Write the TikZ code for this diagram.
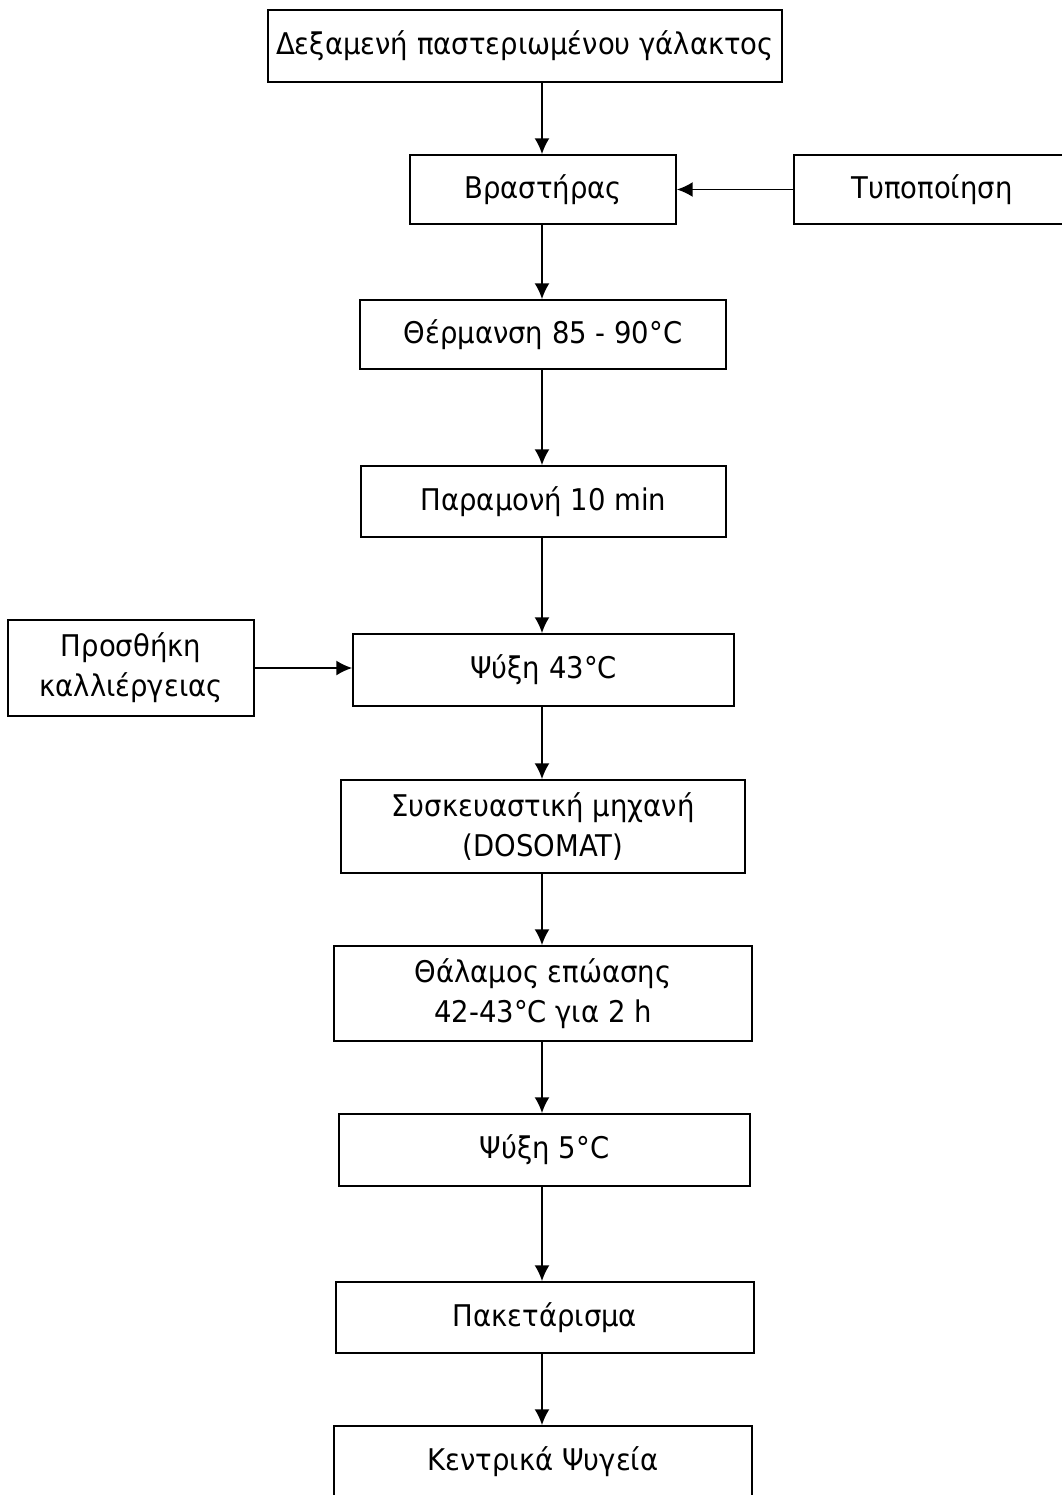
\documentclass[tikz,border=0pt]{standalone}
\usepackage{fontspec}
\setmainfont[FakeStretch=0.92]{DejaVu Sans}
\usetikzlibrary{arrows.meta}

\begin{document}
\begin{tikzpicture}[x=0.02cm, y=-0.02cm, >={Latex[length=9pt,width=8.5pt]},
  stage/.style={draw, line width=1pt, align=center, inner sep=0pt,
    font=\fontsize{17}{22.7}\selectfont}]

\useasboundingbox (0,0) rectangle (1062,1495);
\coordinate (spine) at (542,0);

\node[stage, minimum width=10.28cm, minimum height=1.44cm] (tank) at (525,46) {Δεξαμενή παστεριωμένου γάλακτος};

% boiler and standardisation
\node[stage, minimum width=5.32cm, minimum height=1.38cm] (boiler) at (543,189.5) {Βραστήρας};
\node[stage, minimum width=5.52cm, minimum height=1.38cm] (standard) at (932,189.5) {Τυποποίηση};
\draw[->, line width=1pt] (tank.south -| spine) -- (boiler.north -| spine);
\draw[->, line width=1pt] (standard) -- (boiler);

% heating and holding
\node[stage, minimum width=7.32cm, minimum height=1.38cm] (heating) at (543,334.5) {Θέρμανση 85 - 90°C};
\draw[->, line width=1pt] (boiler.south -| spine) -- (heating.north -| spine);

\node[stage, minimum width=7.3cm, minimum height=1.42cm] (holding) at (543.5,501.5) {Παραμονή 10 min};
\draw[->, line width=1pt] (heating.south -| spine) -- (holding.north -| spine);

% cooling, culture goes in here
\node[stage, minimum width=7.62cm, minimum height=1.44cm] (cool43) at (543.5,670) {Ψύξη 43°C};
\draw[->, line width=1pt] (holding.south -| spine) -- (cool43.north -| spine);

\node[stage, minimum width=4.92cm, minimum height=1.92cm] (culture) at (131,668) {Προσθήκη\\καλλιέργειας};
\draw[->, line width=1pt] (culture.east) -- (cool43.west |- culture.east);

% filling machine
\node[stage, minimum width=8.08cm, minimum height=1.86cm] (filler) at (543,826.5) {Συσκευαστική μηχανή\\(DOSOMAT)};
\draw[->, line width=1pt] (cool43.south -| spine) -- (filler.north -| spine);

% incubation
\node[stage, minimum width=8.36cm, minimum height=1.9cm] (incub) at (543,993.5) {Θάλαμος επώασης\\42-43°C για 2 h};
\draw[->, line width=1pt] (filler.south -| spine) -- (incub.north -| spine);

\node[stage, minimum width=8.22cm, minimum height=1.44cm] (cool5) at (544.5,1150) {Ψύξη 5°C};
\draw[->, line width=1pt] (incub.south -| spine) -- (cool5.north -| spine);

% packing and storage
\node[stage, minimum width=8.36cm, minimum height=1.42cm] (packing) at (545,1317.5) {Πακετάρισμα};
\draw[->, line width=1pt] (cool5.south -| spine) -- (packing.north -| spine);

\node[stage, minimum width=8.36cm, text height=0.88cm, text depth=0.8cm, anchor=base] (store) at (543,1470) {Κεντρικά Ψυγεία};
\draw[->, line width=1pt] (packing.south -| spine) -- (store.north -| spine);

\end{tikzpicture}
\end{document}
